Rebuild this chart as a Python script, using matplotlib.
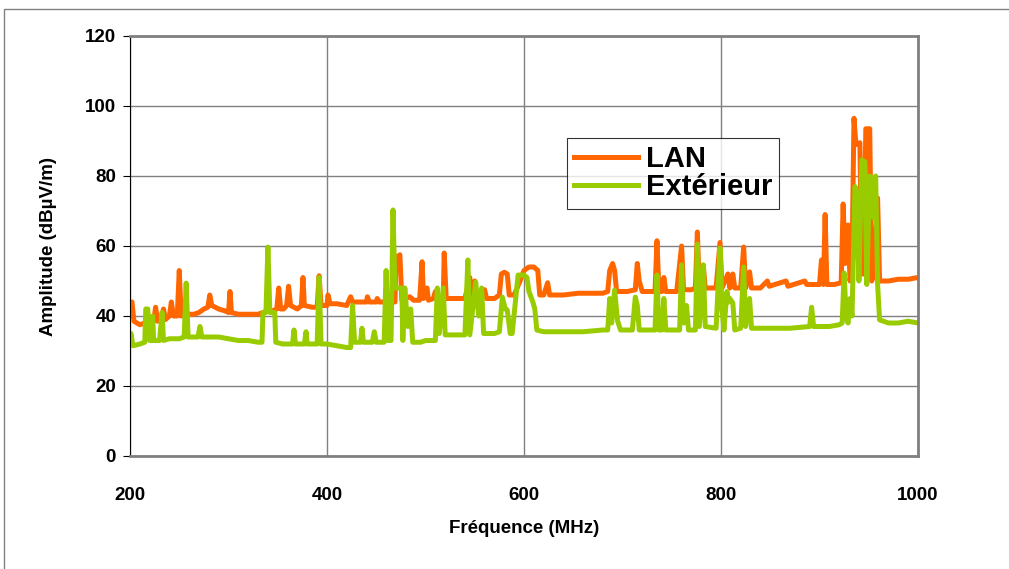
import matplotlib as mpl
mpl.use('Agg')
import matplotlib.pyplot as plt
from matplotlib.patches import Rectangle

# LAN (orange)
lan_f = [200, 202, 204, 210, 215, 220, 224, 226, 228, 232, 234, 236, 240, 242, 244, 248, 250, 252,
         258, 265, 270, 275, 279, 281, 283, 290, 296, 300, 301.5, 303, 310, 320, 330, 340, 345, 349,
         351, 353, 356, 359, 361, 363, 370, 374, 375.6, 377, 385, 390, 392, 394, 400, 401, 403, 410,
         420, 424, 426, 432, 440, 441, 443, 450, 451, 453, 460, 465, 469, 470, 472, 474, 476, 480,
         484, 488, 494, 496.5, 498, 501.5, 503, 508, 510, 513, 518, 519, 521, 530, 540, 545, 547,
         550, 552, 556, 560, 562, 570, 575, 577, 580, 583, 585, 590, 596, 600, 605, 610, 614, 616,
         620, 624, 626, 640, 655, 670, 680, 685, 687, 690, 692, 694, 700, 705, 713, 715, 717, 720,
         733, 735, 737, 740, 742, 744, 755, 760, 762, 770, 774, 776, 778, 782, 784, 795, 799, 801,
         807, 809, 812, 814, 820, 823, 825, 829, 831, 840, 847, 849, 866, 868, 885, 887, 900, 902,
         904, 905.7, 907.5, 915, 922, 924, 926, 929, 931, 933, 935, 937, 941, 943, 945, 947, 951,
         953, 955, 959, 961, 970, 980, 990, 1000]
lan_v = [43.5, 44, 38.5, 37.5, 38, 38.5, 38.5, 42.5, 38.5, 39, 42, 39, 40, 44, 40, 40, 53, 40,
         40.5, 40.5, 41, 42, 42.5, 46, 43, 42, 41.5, 41, 47, 41, 40.5, 40.5, 40.5, 41.5, 41.5, 42,
         48, 42, 42, 43, 48.5, 43, 42, 43, 51, 43, 42.5, 42.5, 51.5, 43, 43, 46, 43.5, 43.5,
         43, 45.5, 44, 44, 44, 45.5, 44, 44, 45, 44, 44, 44.5, 44, 57, 57, 57.5, 44.5, 45,
         45.5, 44.5, 44.5, 55.5, 45, 48, 44.5, 45, 47, 45, 45, 58, 45, 45, 45, 51, 45,
         50, 45, 45, 47.5, 45, 45, 46, 52, 52.5, 52, 46, 46, 50, 53, 54, 54, 53, 46,
         46, 49.5, 46, 46, 46.5, 46.5, 46.5, 47, 53, 55, 53, 47, 47, 47, 47.5, 55, 50, 47,
         47, 61.5, 47, 47, 51, 47, 47, 60, 47.5, 47.5, 48, 64, 48, 54.5, 48, 48, 61, 48,
         52, 48, 52, 48, 48, 59.7, 48, 52.6, 48, 48, 50, 48.5, 50, 48.5, 50, 49, 49, 56,
         49, 69, 49, 49, 49.5, 72, 55, 66, 50, 55, 96.5, 89, 89.5, 52, 52, 93.5, 93.5,
         50, 52, 73.7, 50, 50, 50.5, 50.5, 51]

# Extérieur (vert)
ext_f = [200, 201, 203, 210, 215, 216, 218, 220, 222, 223, 224, 230, 232.5, 234, 240, 250, 255, 257,
         259, 265, 269, 271, 273, 280, 290, 300, 310, 320, 330, 334, 335, 338, 340, 342, 347, 348,
         355, 365, 366.5, 368, 377, 378.7, 380, 390, 392, 394, 400, 410, 420, 424, 426, 428, 434,
         435.5, 437, 446, 448, 450, 458, 460, 462, 465, 467, 469, 473, 476, 477, 479, 482, 485,
         487, 495, 500, 510, 512, 514, 518, 520, 525, 540, 543, 545, 551, 554, 557, 559, 570,
         575, 578, 581, 583, 586, 588, 594, 600, 603, 605, 609, 611, 613, 620, 640, 660, 680,
         685, 687, 689, 692, 695, 698, 710, 713, 715, 717, 733, 735, 737, 740, 742, 744, 758,
         760, 762, 765, 767, 774, 776, 778, 782, 784, 795, 799, 801, 803, 806, 808, 809, 812,
         814, 820, 823, 825, 829, 831, 850, 870, 890, 892, 894, 910, 920, 923, 925, 927, 929,
         931, 933, 936, 938, 940, 943, 946, 948, 951, 953, 955, 957, 959, 961, 970, 980, 990, 1000]
ext_v = [33.5, 35, 31.5, 32, 32.5, 42, 42, 33, 33, 40, 33, 33, 41, 33, 33.5, 33.5, 34, 49.4,
         34, 34, 34, 37, 34, 34, 34, 33.5, 33, 33, 32.5, 32.5, 41, 41, 59.7, 41, 41, 32.5,
         32, 32, 36, 32, 32, 35.5, 32, 32, 51, 32, 32, 31.5, 31, 31, 43, 32.5, 32.5,
         36.5, 32.5, 32.5, 35.5, 32.5, 32.5, 53, 33, 33, 70.3, 48, 48, 48, 33, 48, 37, 42,
         32.5, 32.5, 33, 33, 48, 35, 48, 34.6, 34.6, 34.6, 56, 34.6, 49.7, 40, 48, 35, 35,
         35.5, 45.4, 42, 41.7, 35, 35, 51.7, 51.7, 51, 47, 44, 42, 36, 35.5, 35.5, 35.5, 36,
         36, 45, 38, 47.4, 38.6, 36, 36, 45.4, 43, 36, 36, 51.7, 36, 36, 45, 36, 36,
         54.6, 38, 43, 36, 36, 60.5, 37, 54.6, 37, 36.5, 59.4, 42, 36, 47, 44, 45, 43.7,
         36, 36.5, 54, 37, 45, 36.5, 36.5, 36.5, 37, 42.5, 37, 37, 37.5, 38, 52.3, 40, 38,
         45, 40, 77, 75, 50, 84.6, 84, 49, 80, 79.5, 68, 80, 49, 38.9, 38, 38, 38.5, 38]

plt.rcParams['font.family'] = ['Liberation Sans', 'DejaVu Sans']
plt.rcParams['font.weight'] = 'bold'

fig = plt.figure(figsize=(10.09, 5.69), dpi=100)
ax = fig.add_axes([130/1009, 1-456/569, 788/1009, 420/569])

# cadre du graphique
fig.patches.append(Rectangle((4/1009, -0.1), 1.1, 1-9/569+0.1, transform=fig.transFigure,
                             fill=False, edgecolor='#808080', lw=1))

ax.plot(lan_f, lan_v, color='#FF6600', lw=3.6, label='LAN', solid_joinstyle='round')
ax.plot(ext_f, ext_v, color='#99CC00', lw=3.6, label='Extérieur', solid_joinstyle='round')

ax.set_xlim(200, 1000)
ax.set_ylim(0, 120)
ax.set_xticks([200, 400, 600, 800, 1000])
ax.set_yticks(range(0, 121, 20))
ax.grid(True, color='#808080', lw=1)
ax.set_axisbelow(True)
for s in ['top', 'right', 'bottom']:
    ax.spines[s].set_color('#808080')
    ax.spines[s].set_linewidth(2)
ax.spines['left'].set_color('black')
ax.tick_params(axis='y', direction='out', length=5, labelsize=13.5, pad=5)
ax.tick_params(axis='x', length=0, labelsize=13.5, pad=22)

ax.set_xlabel('Fréquence (MHz)', fontsize=13.5, fontweight='bold', labelpad=12)
ax.set_ylabel('Amplitude (dBµV/m)', fontsize=13.5, fontweight='bold', labelpad=20)

leg = ax.legend(loc='upper left', bbox_to_anchor=(0.5546, 0.757), borderaxespad=0,
                fontsize=21, frameon=True, fancybox=False, handlelength=2.2,
                labelspacing=0.0, borderpad=0.25, handletextpad=0.25)
leg.get_frame().set_edgecolor('black')
leg.get_frame().set_linewidth(0.8)
for t in leg.get_texts():
    t.set_fontweight('bold')

plt.savefig('out.png', dpi=100)
